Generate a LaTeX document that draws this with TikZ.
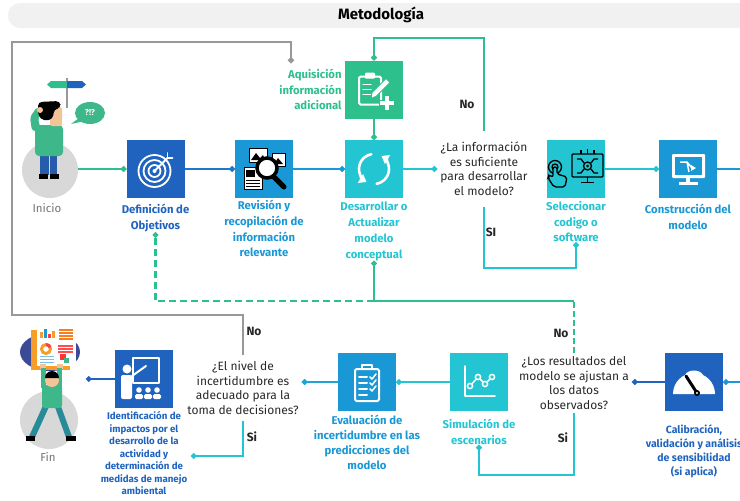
\documentclass[tikz,border=0pt]{standalone}
\usepackage{fontspec}
\setmainfont{Fira Sans}
\usetikzlibrary{arrows.meta, positioning, calc}

\definecolor{DeepBlue}{RGB}{31,99,190}
\definecolor{MidBlue}{RGB}{26,152,214}
\definecolor{Aqua}{RGB}{36,197,210}
\definecolor{Mint}{RGB}{45,192,140}
\definecolor{FrameGray}{RGB}{152,152,152}
\definecolor{DiscGray}{RGB}{216,216,216}
\definecolor{BarGray}{RGB}{241,241,241}
\definecolor{Shirt}{RGB}{62,184,138}
\definecolor{Pants}{RGB}{38,92,170}
\definecolor{Skin}{RGB}{243,196,150}
\definecolor{Board}{RGB}{58,74,150}
\definecolor{Paper}{RGB}{246,158,40}
\definecolor{Legs}{RGB}{40,140,152}
\definecolor{AskText}{RGB}{40,40,40}

\tikzset{
  stepbox/.style={minimum size=58pt, inner sep=0pt},
  lbl/.style={align=center, inner sep=0pt, font=\bfseries\fontsize{11.3}{15.7}\selectfont},
  ask/.style={align=center, inner xsep=3pt, text=AskText, font=\fontsize{12}{14.5}\selectfont},
  yn/.style={text=black!85, font=\bfseries\fontsize{12}{12}\selectfont},
  flow/.style={line width=2.2pt, -{Circle[length=5.5pt]}},
  icon/.style={white, line width=1.8pt, line cap=round, line join=round},
}

\begin{document}
\begin{tikzpicture}[x=1pt, y=-1pt]
\useasboundingbox (0,0) rectangle (740,501);
\clip (0,0) rectangle (740,501);

% title bar
\fill[BarGray, rounded corners=12pt] (8,3) rectangle (770,28);
\node[font=\bfseries\fontsize{15}{17}\selectfont] (title) at (381,15) {Metodología};

% process boxes
\node[stepbox, fill=DeepBlue] (def) at (155.5,169) {};
\node[stepbox, fill=MidBlue] (rev) at (264,169) {};
\node[stepbox, fill=Aqua] (des) at (374,169) {};
\node[stepbox, fill=Mint] (aqu) at (374,89.5) {};
\node[stepbox, fill=Aqua] (sel) at (576,169) {};
\node[stepbox, fill=MidBlue] (con) at (688,169) {};
\node[stepbox, fill=DeepBlue] (cal) at (694,382) {};
\node[stepbox, fill=Aqua] (sim) at (479,382) {};
\node[stepbox, fill=MidBlue] (eva) at (367,382) {};
\node[stepbox, fill=DeepBlue] (idf) at (144,379) {};

% box captions
\node[lbl, text=DeepBlue, below=6pt of def] (defT) {Definición de\\Objetivos};
\node[lbl, text=MidBlue, below=2pt of rev] (revT) {Revisión y\\recopilación de\\información\\relevante};
\node[lbl, text=Aqua, below=4pt of des] (desT) {Desarrollar o\\Actualizar\\modelo\\conceptual};
\node[lbl, text=Mint, align=right, left=3pt of aqu] (aquT) {Aquisición\\información\\adicional};
\node[lbl, text=Aqua, below=3pt of sel] (selT) {Seleccionar\\codigo o\\software};
\node[lbl, text=MidBlue, below=6pt of con] (conT) {Construcción del\\modelo};
\node[lbl, text=DeepBlue, font=\bfseries\fontsize{10.5}{14}\selectfont, below=13pt of cal] (calT) {Calibración,\\validación y análisis\\de sensibilidad\\(si aplica)};
\node[lbl, text=Aqua, below=8pt of sim] (simT) {Simulación de\\escenarios};
\node[lbl, text=MidBlue, font=\bfseries\fontsize{11.3}{15}\selectfont, below=4pt of eva] (evaT) {Evaluación de\\incertidumbre en las\\predicciones del\\modelo};
\node[lbl, text=DeepBlue, font=\bfseries\fontsize{9.7}{12.5}\selectfont, below=3pt of idf] (idfT) {Identificación de\\impactos por el\\desarrollo de la\\actividad y\\determinación de\\medidas de manejo\\ambiental};

% decisions
\node[ask, inner ysep=11pt] (q1) at (484,169) {¿La información\\es suficiente\\para desarrollar\\el modelo?};
\node[ask, inner ysep=3pt] (q2) at (574,383) {¿Los resultados del\\modelo se ajustan a\\los datos\\observados?};
\node[ask, inner ysep=6pt] (q3) at (243,388) {¿El nivel de\\incertidumbre es\\adecuado para la\\toma de decisiones?};

% start figure
\node[circle, fill=DiscGray, minimum size=56pt, inner sep=0pt] (ini) at (50,170) {};
\node[text=black!55, font=\fontsize{11.5}{13}\selectfont] (iniT) at (47,208) {Inicio};
\draw[FrameGray, line width=2pt] (67,78) -- (67,108);
\fill[Mint] (47,84.5) -- (51,81) -- (67,81) -- (67,88) -- (51,88) -- cycle;
\fill[DeepBlue] (67,81) -- (82,81) -- (86,84.5) -- (82,88) -- (67,88) -- cycle;
\fill[Shirt] (90,113) ellipse [x radius=15pt, y radius=11pt];
\fill[Shirt] (79,118) -- (71,124) -- (85,121) -- cycle;
\node[text=white, font=\bfseries\fontsize{8.5}{8.5}\selectfont] (puzzled) at (90,113) {?!?};
\fill[Pants] (40,152) rectangle (48.5,175);
\fill[Pants] (49.5,152) rectangle (57,175);
\fill[black] (39,174) rectangle (48,179);
\fill[black] (50,174) rectangle (59,179);
\fill[Shirt, rounded corners=4pt] (35,125) rectangle (63,156);
\fill[Shirt, rounded corners=3pt] (32,131) -- (30,117) -- (37,107) -- (44,111) -- (38,118) -- (41,131) -- cycle;
\fill[Skin, rounded corners=2pt] (50,107) rectangle (62,126);
\fill[black, rounded corners=4pt] (38,102) -- (60,101) -- (61,108) -- (54,109) -- (53,119) -- (44,121) -- (38,116) -- cycle;
\fill[Skin] (40,110) circle[radius=3pt];

% end figure
\node[circle, fill=DiscGray, minimum size=58pt, inner sep=0pt] (fin) at (49,420) {};
\node[text=black!55, font=\fontsize{11.5}{13}\selectfont] (finT) at (48,457) {Fin};
\fill[Board] (50,352) ellipse [x radius=30pt, y radius=19pt];
\fill[Paper] (31,330) rectangle (70,370);
\fill[white] (37,325) rectangle (76,366);
\fill[Paper] (40,338) rectangle (42.5,332);
\fill[MidBlue] (44,338) rectangle (46.5,329);
\fill[red!75] (48,338) rectangle (50.5,334);
\fill[Paper] (52,338) rectangle (54.5,331);
\draw[Paper, line width=3pt] (46,349) circle[radius=4.5pt];
\draw[red!75, line width=3pt] (46,349) ++(90:4.5pt) arc[start angle=90, end angle=20, radius=4.5pt];
\foreach \yy in {329,332,335,338} \fill[Paper!80!red] (59,\yy) rectangle (73,\yy+1.6);
\foreach \yy in {345,348,351} \fill[red!70] (58,\yy) rectangle (73,\yy+1.6);
\foreach \yy in {356,359,362} \fill[MidBlue!60] (40,\yy) rectangle (54,\yy+1.4);
\fill[red!80] (60,354) rectangle (66,360);
\fill[Shirt] (64,358) rectangle (69,363);
\fill[Skin] (40,364) rectangle (46,369);
\fill[Skin] (57,364) rectangle (63,369);
\fill[Shirt] (41,368) rectangle (46,388);
\fill[Shirt] (57,368) rectangle (62,388);
\draw[Legs, line width=6pt] (47,404) -- (32,437);
\draw[Legs, line width=6pt] (57,404) -- (69,437);
\fill[Shirt, rounded corners=3pt] (42,385) rectangle (62,408);
\fill[Skin] (52,380) circle[radius=7pt];
\fill[black] (45,378) arc[start angle=180, end angle=0, radius=7pt] -- cycle;
\fill[black] (26,436) rectangle (35,441);
\fill[black] (66,436) rectangle (76,441);

% icons
\begin{scope}[shift={(def.center)}]
  \draw[icon] (-1,2) circle[radius=16pt];
  \draw[icon] (-1,2) circle[radius=11pt];
  \draw[icon] (-1,2) circle[radius=6pt];
  \fill[white] (-1,2) circle[radius=2pt];
  \draw[icon] (-1,2) -- (12,-11);
  \draw[icon] (12,-11) -- (17,-11) (12,-11) -- (12,-16);
\end{scope}
\begin{scope}[shift={(rev.center)}]
  \filldraw[fill=white, draw=black, line width=1pt] (-15,-21) rectangle (3,-7);
  \fill[black] (-13,-9) -- (-8,-16) -- (-4,-11) -- (-1,-14) -- (1,-9) -- cycle;
  \filldraw[fill=white, draw=black, line width=1pt] (8,-16) rectangle (21,-3);
  \fill[black] (10,-5) -- (14,-11) -- (19,-5) -- cycle;
  \filldraw[fill=white, draw=black, line width=1pt] (-20,-2) rectangle (-2,20);
  \fill[black] (-18,1) rectangle (-9,8);
  \foreach \yy in {11,14,17} \draw[black, line width=1pt] (-18,\yy) -- (-4,\yy);
  \draw[black, line width=5pt, line cap=round] (10,8) -- (20,18);
  \filldraw[fill=white, draw=black, line width=3.5pt] (3,-1) circle[radius=10pt];
\end{scope}
\begin{scope}[shift={(des.center)}]
  \draw[icon, line width=2.6pt, -{Triangle[length=7pt, width=10pt]}] (0,0) ++(100:15pt) arc[start angle=100, end angle=240, radius=15pt];
  \draw[icon, line width=2.6pt, -{Triangle[length=7pt, width=10pt]}] (0,0) ++(280:15pt) arc[start angle=280, end angle=420, radius=15pt];
\end{scope}
\begin{scope}[shift={(aqu.center)}]
  \draw[icon, line width=2pt, rounded corners=1.5pt] (-15,-13) rectangle (7,15);
  \fill[white, rounded corners=1pt] (-9,-17) rectangle (1,-11);
  \foreach \yy in {-5,0,5} \draw[icon, line width=1.5pt] (-11,\yy) -- (-3,\yy);
  \filldraw[fill=white, draw=Mint, line width=1pt] (-3,9) -- (-2,3) -- (12,-11) -- (16,-7) -- (2,7) -- cycle;
  \filldraw[fill=white, draw=Mint, line width=1pt] (10,6) -- (15,6) -- (15,11) -- (20,11) -- (20,16) -- (15,16) -- (15,21) -- (10,21) -- (10,16) -- (5,16) -- (5,11) -- (10,11) -- cycle;
\end{scope}
\begin{scope}[shift={(sel.center)}, black, line width=1.3pt]
  \draw[rounded corners=1pt] (-4,-15) rectangle (27,8);
  \draw (11.5,8) -- (11.5,13) (5,13.5) -- (18,13.5);
  \draw (11.5,-3) circle[radius=4pt];
  \fill (11.5,-3) circle[radius=1.5pt];
  \draw (1,-10) -- (5,-10) -- (8,-6) (22,-10) -- (18,-10) -- (15,-6) (1,4) -- (5,4) -- (8,0) (22,4) -- (18,4) -- (15,0);
  \draw (5,-15) -- (5,-19) (11.5,-15) -- (11.5,-20) (18,-15) -- (18,-19);
  \draw (-21,-2) circle[radius=3pt] (-21,-2) circle[radius=6.5pt];
  \draw[fill=Aqua, rounded corners=2pt] (-23,-2) -- (-23,8) -- (-27,6) -- (-28,9) -- (-22,18) -- (-11,18) -- (-9,8) -- (-19,5) -- (-19,-2) -- cycle;
\end{scope}
\begin{scope}[shift={(con.center)}]
  \fill[white, rounded corners=1pt] (-16,-15) rectangle (17,9);
  \fill[MidBlue] (-13,-12) rectangle (14,6);
  \fill[white] (-2,9) rectangle (2,13);
  \fill[white] (-9,13) rectangle (10,16);
  \draw[white, line width=1.5pt] (-8,-7) -- (-1,-7) -- (4,-1) (-1,-7) -- (1,3);
  \fill[white] (8,-1) -- (3,-4) -- (3,2) -- cycle;
\end{scope}
\begin{scope}[shift={(cal.center)}]
  \fill[white] (-21,12) arc[start angle=180, end angle=0, radius=21pt] -- cycle;
  \fill[white] (-9,-7) .. controls (-6,-13) and (6,-13) .. (9,-7) -- cycle;
  \draw[black, line width=3pt, line cap=round] (3,11) -- (-8,-6);
  \fill[black] (3,11) circle[radius=3pt];
  \fill[white] (3,11) circle[radius=1.2pt];
\end{scope}
\begin{scope}[shift={(sim.center)}]
  \draw[icon, line width=1.5pt] (-14,-16) -- (-14,14) -- (16,14);
  \draw[icon, line width=1.5pt] (-9,4) -- (-1,-5) -- (6,2) -- (13,-5);
  \foreach \px/\py in {-9/4,-1/-5,6/2,13/-5}
    \filldraw[fill=Aqua, draw=white, line width=1.5pt] (\px,\py) circle[radius=2.6pt];
\end{scope}
\begin{scope}[shift={(eva.center)}]
  \draw[icon, line width=2pt, rounded corners=1.5pt] (-12,-13) rectangle (12,19);
  \draw[icon, line width=1.8pt] (-5,-13) -- (-5,-17) -- (5,-17) -- (5,-13);
  \foreach \yy in {-5,1,7,13} \draw[icon, line width=2pt] (-8,\yy) -- (0,\yy);
  \foreach \yy in {-5,1,7} \draw[icon, line width=1.5pt] (3,\yy) -- (5,\yy+2) -- (9,\yy-3);
\end{scope}
\begin{scope}[shift={(idf.center)}]
  \draw[icon, line width=1.8pt] (-11,-21) rectangle (15,4);
  \fill[white] (-17,-10) circle[radius=4.5pt];
  \fill[white, rounded corners=2pt] (-23,-4) rectangle (-12,20);
  \draw[icon, line width=2pt] (-12,-3) -- (2,-13);
  \foreach \hx in {-5,4,13} {
    \fill[white] (\hx,11) circle[radius=2.8pt];
    \fill[white, rounded corners=1.5pt] (\hx-4,15) rectangle (\hx+4,20);
  }
\end{scope}

% turning points and free ends
\coordinate (topR) at (484,38);
\coordinate (siR) at (484,268);
\coordinate (outR) at (745,169);
\coordinate (inR) at (745,382);
\coordinate (backR) at (574,301);
\coordinate (backM) at (des |- backR);
\coordinate (siB) at (574,475);
\coordinate (loopL) at (12,315);
\coordinate (loopT) at (291,42);
\coordinate (loopE) at (291,63);
\coordinate (siL) at (191,456);
\coordinate (finIn) at (86,379);

% top row
\draw[flow, Mint] (ini.east |- def.west) -- (def.west);
\draw[flow, DeepBlue!60!MidBlue] (def) -- (rev);
\draw[flow, MidBlue] (rev) -- (des);
\draw[flow, Aqua] (des) -- (q1);
\draw[flow, Mint] (aqu) -- (des);
\draw[flow, Mint] (q1.north) |- (topR) -| (aqu.north);
\draw[flow, Aqua] (q1.south) |- (siR) -| (selT.south);
\draw[flow, Aqua] (sel) -- (con);
\draw[line width=2.2pt, MidBlue] (con.east) -- (outR);

% bottom row
\draw[flow, MidBlue] (inR) -- (cal.east);
\draw[flow, DeepBlue] (cal.west) -- (cal.west -| q2.east);
\draw[Mint, line width=2.2pt, dash pattern=on 6pt off 3pt] (q2.north) -- (backR);
\draw[flow, Mint] (backR) -- (backM) -- (desT.south);
\draw[flow, Mint, dash pattern=on 7pt off 4pt] (backM) -| (defT.south);
\draw[flow, Aqua] (q2.south) |- (siB) -| (simT.south);
\draw[flow, Aqua] (sim) -- (eva);
\draw[flow, MidBlue!70!Aqua] (eva.west) -- (eva.west -| q3.east);
\draw[flow, FrameGray, line width=2.6pt] (q3.north) |- (loopL) |- (loopT) -- (loopE);
\draw[flow, Aqua] (q3.south) |- (siL);
\draw[flow, DeepBlue] (idf.west) -- (finIn);

% answers
\node[yn] (no1) at (467,104) {No};
\node[yn] (si1) at (491,232) {SI};
\node[yn] (no2) at (561,333) {No};
\node[yn] (si2) at (563,438) {Si};
\node[yn] (no3) at (254,331) {No};
\node[yn] (si3) at (252,437) {Si};
\end{tikzpicture}
\end{document}
